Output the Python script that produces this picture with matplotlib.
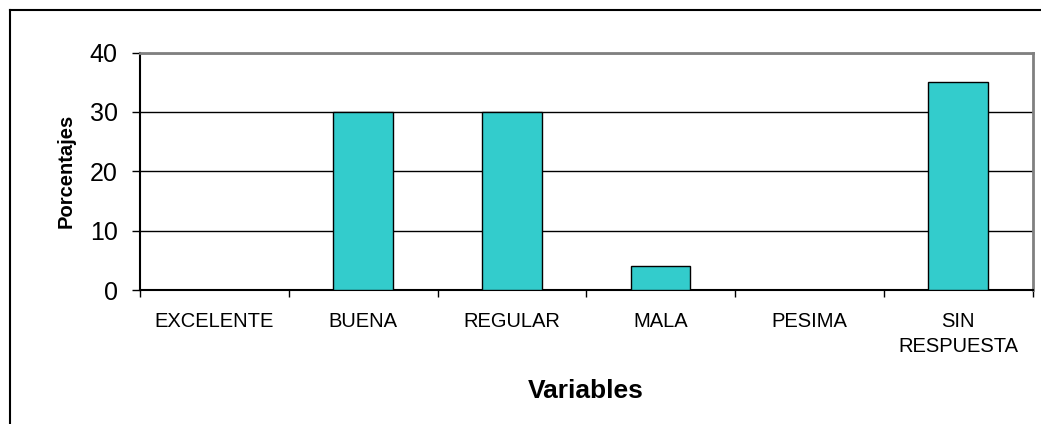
import matplotlib.pyplot as plt
from matplotlib.lines import Line2D

categorias = ["EXCELENTE", "BUENA", "REGULAR", "MALA", "PESIMA", "SIN\nRESPUESTA"]
porcentajes = [0, 30, 30, 4, 0, 35]
y_ticks = [0, 10, 20, 30, 40]

plt.rcParams['font.family'] = ['Liberation Sans', 'DejaVu Sans']

fig = plt.figure(figsize=(10.41, 4.24), dpi=100)
ax = fig.add_axes([140 / 1041, 1 - 290 / 424, 892.5 / 1041, 237.5 / 424])

x = list(range(len(categorias)))
ax.bar(x, porcentajes, width=0.4, color='#33CCCC', edgecolor='black', linewidth=1.0, zorder=3)

ax.set_xlim(-0.5, len(categorias) - 0.5)
ax.set_ylim(0, 40)
ax.set_yticks(y_ticks)
ax.tick_params(axis='y', labelsize=18, length=6, width=1, direction='out', pad=10)
ax.yaxis.grid(True, color='black', linewidth=1, zorder=1)

# marcas entre categorias, etiquetas centradas
ax.set_xticks([i + 0.5 for i in range(-1, len(categorias))])
ax.set_xticklabels([])
ax.tick_params(axis='x', length=5, width=1, direction='out')
ax.set_xticks(x, minor=True)
ax.set_xticklabels(categorias, minor=True, fontsize=14.5, va='top', linespacing=1.4)
ax.tick_params(axis='x', which='minor', length=0, pad=16)

ax.spines['left'].set_color('black')
ax.spines['bottom'].set_color('black')
ax.spines['left'].set_linewidth(1.5)
ax.spines['bottom'].set_linewidth(1.5)
ax.spines['top'].set_color('#808080')
ax.spines['right'].set_color('#808080')
ax.spines['top'].set_linewidth(2)
ax.spines['right'].set_linewidth(2)

ax.set_ylabel('Porcentajes', fontsize=14.5, fontweight='bold', labelpad=10)
ax.set_xlabel('Variables', fontsize=19, fontweight='bold', labelpad=16.5)

# borde del grafico
fig.add_artist(Line2D([10 / 1041, 1.0], [1 - 10 / 424, 1 - 10 / 424], transform=fig.transFigure, color='black', linewidth=1.5))
fig.add_artist(Line2D([10 / 1041, 10 / 1041], [0.0, 1 - 10 / 424], transform=fig.transFigure, color='black', linewidth=1.5))

fig.savefig('out.png', dpi=100)
